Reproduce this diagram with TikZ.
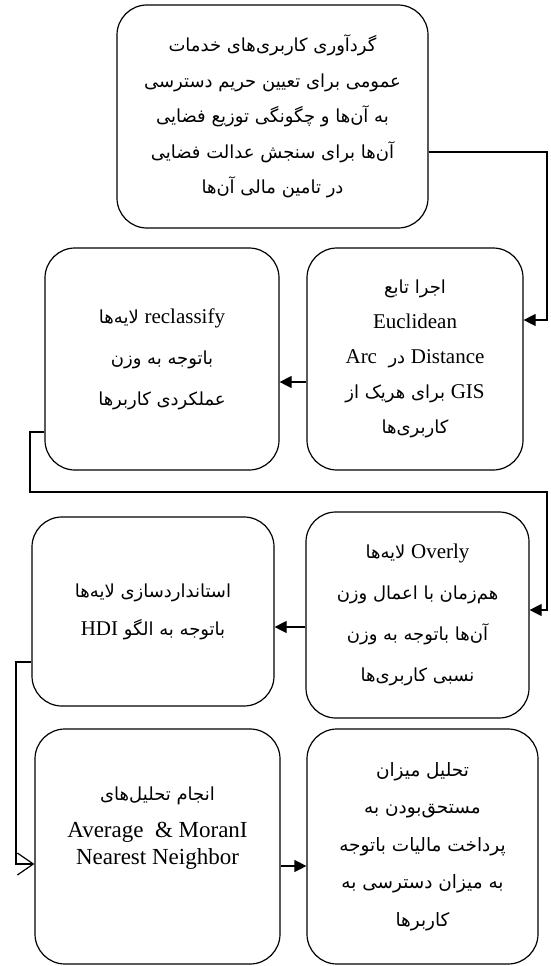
\documentclass[tikz,border=0pt]{standalone}
\usepackage{fontspec}
\setmainfont{Liberation Serif}
\newfontfamily\pfont[Script=Arabic,Scale=0.9]{DejaVu Sans}
\TeXXeTstate=1
\usetikzlibrary{arrows.meta,calc}
\newcommand\fa[1]{{\pfont\beginR #1\endR}}
\newcommand\la[1]{\beginL{\rmfamily\fontsize{21}{21}\selectfont #1}\endL{}}
\begin{document}
\begin{tikzpicture}[x=1pt,y=-1pt,
  box/.style={draw, line width=1.2pt, rounded corners=30pt, align=center, inner sep=0pt},
  arr/.style={line width=1.2pt, -{Triangle[length=12pt,width=12pt]}},
  barb/.style={line width=1.2pt, -{Straight Barb[length=16pt,width=22pt,line width=1.2pt]}}]
\useasboundingbox (0,0) rectangle (550,966);

\node[box, minimum width=311pt, minimum height=223pt, font=\fontsize{20}{35.5}\selectfont] (B1) at (272.5,116.5)
 {\fa{گردآوری کاربری^^^^200cهای خدمات}\\
  \fa{عمومی برای تعیین حریم دسترسی}\\
  \fa{به آن^^^^200cها و چگونگی توزیع فضایی}\\
  \fa{آن^^^^200cها برای سنجش عدالت فضایی}\\
  \fa{در تامین مالی آن^^^^200cها}};

\node[box, minimum width=216pt, minimum height=222pt, font=\fontsize{20}{35}\selectfont] (B2) at (415,359)
 {\fa{اجرا تابع}\\
  {\fontsize{21}{21}\selectfont Euclidean}\\
  \fa{\la{Distance} در\ \ \la{Arc}}\\
  \fa{\la{GIS} برای هریک از}\\
  \fa{کاربری^^^^200cها}};

\node[box, minimum width=234pt, minimum height=222pt, font=\fontsize{20}{41}\selectfont] (B3) at (162,359)
 {\fa{\la{reclassify} لایه^^^^200cها}\\
  \fa{باتوجه به وزن}\\
  \fa{عملکردی کاربرها}};

\node[box, minimum width=223pt, minimum height=206pt, font=\fontsize{20}{41}\selectfont] (B4) at (417.5,615)
 {\fa{\la{Overly} لایه^^^^200cها}\\
  \fa{هم^^^^200cزمان با اعمال وزن}\\
  \fa{آن^^^^200cها باتوجه به وزن}\\
  \fa{نسبی کاربری^^^^200cها}};

\node[box, minimum width=242pt, minimum height=189pt, font=\fontsize{20}{38}\selectfont] (B5) at (153,611.5)
 {\fa{استانداردسازی لایه^^^^200cها}\\
  \fa{باتوجه به الگو \la{HDI}}};

\node[box, minimum width=245pt, minimum height=235pt, font=\fontsize{23}{27}\selectfont] (B6) at (157.5,846.5)
 {{\fontsize{20}{27}\selectfont\fa{انجام تحلیل^^^^200cهای}}\\[10pt]
  Average\ \ \&\ MoranI\\
  Nearest Neighbor\\[14pt]
  \mbox{}};

\node[box, minimum width=231pt, minimum height=235pt, font=\fontsize{20.5}{37.5}\selectfont] (B7) at (422.5,846.5)
 {\fa{تحلیل میزان}\\
  \fa{مستحق^^^^200cبودن به}\\
  \fa{پرداخت مالیات باتوجه}\\
  \fa{به میزان دسترسی به}\\
  \fa{کاربرها}};

\coordinate (k0) at (547,152);
\coordinate (k1) at (30,492);
\coordinate (k2) at (547,492);
\coordinate (k3) at (16,864);

\draw[arr] ([yshift=-35.5pt]B1.east) -- (k0) |- ([yshift=39pt]B2.east);
\draw[arr] ([yshift=-23pt]B2.west) -- ([yshift=-23pt]B3.east);
\draw[arr] ([yshift=-73pt]B3.west) -| (k1) -- (k2) |- ([yshift=5pt]B4.east);
\draw[arr] ([yshift=-12pt]B4.west) -- ([yshift=-12pt]B4.west -| B5.east);
\draw[barb] ([yshift=-50.5pt]B5.west) -| (k3) -- ([yshift=-17.5pt]B6.west);
\draw[arr] ([yshift=-19.5pt]B6.east) -- ([yshift=-19.5pt]B7.west);
\end{tikzpicture}
\end{document}
